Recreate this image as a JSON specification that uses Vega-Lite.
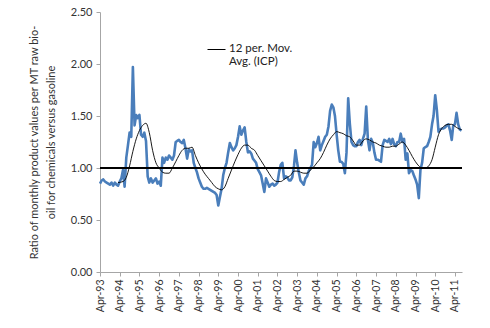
{
"$schema":"https://vega.github.io/schema/vega-lite/v6.json",
"width":362,"height":260,
"autosize":"none",
"padding":{"left":100,"top":12,"right":28,"bottom":56},
"background":"white",
"config":{"font":"Lato","view":{"stroke":null}},
"datasets":{
"monthly":[
{"d":"1993-04-01","v":0.85},{"d":"1993-05-01","v":0.88},{"d":"1993-06-01","v":0.89},{"d":"1993-07-01","v":0.87},{"d":"1993-08-01","v":0.86},{"d":"1993-09-01","v":0.85},{"d":"1993-10-01","v":0.84},{"d":"1993-11-01","v":0.86},{"d":"1993-12-01","v":0.83},
{"d":"1994-01-01","v":0.86},{"d":"1994-02-01","v":0.84},{"d":"1994-03-01","v":0.83},{"d":"1994-04-01","v":0.87},{"d":"1994-05-01","v":0.90},{"d":"1994-06-01","v":0.98},{"d":"1994-07-01","v":0.82},{"d":"1994-08-01","v":1.10},{"d":"1994-09-01","v":1.22},{"d":"1994-10-01","v":1.34},{"d":"1994-11-01","v":1.30},{"d":"1994-12-01","v":1.97},
{"d":"1995-01-01","v":1.41},{"d":"1995-02-01","v":1.51},{"d":"1995-03-01","v":1.48},{"d":"1995-04-01","v":1.51},{"d":"1995-05-01","v":1.32},{"d":"1995-06-01","v":1.30},{"d":"1995-07-01","v":1.34},{"d":"1995-08-01","v":1.26},{"d":"1995-09-01","v":0.92},{"d":"1995-10-01","v":0.86},{"d":"1995-11-01","v":0.90},{"d":"1995-12-01","v":0.86},
{"d":"1996-01-01","v":0.88},{"d":"1996-02-01","v":0.90},{"d":"1996-03-01","v":0.85},{"d":"1996-04-01","v":0.87},{"d":"1996-05-01","v":0.83},{"d":"1996-06-01","v":1.10},{"d":"1996-07-01","v":1.05},{"d":"1996-08-01","v":1.10},{"d":"1996-09-01","v":1.08},{"d":"1996-10-01","v":1.12},{"d":"1996-11-01","v":1.10},{"d":"1996-12-01","v":1.08},
{"d":"1997-01-01","v":1.12},{"d":"1997-02-01","v":1.25},{"d":"1997-03-01","v":1.26},{"d":"1997-04-01","v":1.27},{"d":"1997-05-01","v":1.25},{"d":"1997-06-01","v":1.24},{"d":"1997-07-01","v":1.27},{"d":"1997-08-01","v":1.19},{"d":"1997-09-01","v":1.09},{"d":"1997-10-01","v":1.18},{"d":"1997-11-01","v":1.16},{"d":"1997-12-01","v":1.17},
{"d":"1998-01-01","v":1.05},{"d":"1998-02-01","v":1.00},{"d":"1998-03-01","v":0.96},{"d":"1998-04-01","v":0.90},{"d":"1998-05-01","v":0.86},{"d":"1998-06-01","v":0.82},{"d":"1998-07-01","v":0.80},{"d":"1998-08-01","v":0.80},{"d":"1998-09-01","v":0.81},{"d":"1998-10-01","v":0.80},{"d":"1998-11-01","v":0.79},{"d":"1998-12-01","v":0.78},
{"d":"1999-01-01","v":0.77},{"d":"1999-02-01","v":0.76},{"d":"1999-03-01","v":0.74},{"d":"1999-04-01","v":0.64},{"d":"1999-05-01","v":0.72},{"d":"1999-06-01","v":0.80},{"d":"1999-07-01","v":0.93},{"d":"1999-08-01","v":1.00},{"d":"1999-09-01","v":1.05},{"d":"1999-10-01","v":1.15},{"d":"1999-11-01","v":1.24},{"d":"1999-12-01","v":1.20},
{"d":"2000-01-01","v":1.17},{"d":"2000-02-01","v":1.19},{"d":"2000-03-01","v":1.22},{"d":"2000-04-01","v":1.30},{"d":"2000-05-01","v":1.40},{"d":"2000-06-01","v":1.32},{"d":"2000-07-01","v":1.36},{"d":"2000-08-01","v":1.39},{"d":"2000-09-01","v":1.25},{"d":"2000-10-01","v":1.15},{"d":"2000-11-01","v":1.16},{"d":"2000-12-01","v":1.14},
{"d":"2001-01-01","v":1.09},{"d":"2001-02-01","v":1.07},{"d":"2001-03-01","v":1.05},{"d":"2001-04-01","v":0.99},{"d":"2001-05-01","v":0.96},{"d":"2001-06-01","v":0.93},{"d":"2001-07-01","v":0.85},{"d":"2001-08-01","v":0.77},{"d":"2001-09-01","v":0.90},{"d":"2001-10-01","v":0.86},{"d":"2001-11-01","v":0.82},{"d":"2001-12-01","v":0.84},
{"d":"2002-01-01","v":0.85},{"d":"2002-02-01","v":0.83},{"d":"2002-03-01","v":0.84},{"d":"2002-04-01","v":0.86},{"d":"2002-05-01","v":0.96},{"d":"2002-06-01","v":1.03},{"d":"2002-07-01","v":1.05},{"d":"2002-08-01","v":0.90},{"d":"2002-09-01","v":0.92},{"d":"2002-10-01","v":0.91},{"d":"2002-11-01","v":0.88},{"d":"2002-12-01","v":0.88},
{"d":"2003-01-01","v":0.91},{"d":"2003-02-01","v":1.02},{"d":"2003-03-01","v":1.17},{"d":"2003-04-01","v":1.05},{"d":"2003-05-01","v":0.96},{"d":"2003-06-01","v":0.88},{"d":"2003-07-01","v":0.86},{"d":"2003-08-01","v":0.84},{"d":"2003-09-01","v":0.90},{"d":"2003-10-01","v":0.92},{"d":"2003-11-01","v":0.97},{"d":"2003-12-01","v":1.00},
{"d":"2004-01-01","v":1.03},{"d":"2004-02-01","v":1.25},{"d":"2004-03-01","v":1.20},{"d":"2004-04-01","v":1.24},{"d":"2004-05-01","v":1.30},{"d":"2004-06-01","v":1.17},{"d":"2004-07-01","v":1.22},{"d":"2004-08-01","v":1.26},{"d":"2004-09-01","v":1.30},{"d":"2004-10-01","v":1.32},{"d":"2004-11-01","v":1.40},{"d":"2004-12-01","v":1.55},
{"d":"2005-01-01","v":1.61},{"d":"2005-02-01","v":1.58},{"d":"2005-03-01","v":1.50},{"d":"2005-04-01","v":1.32},{"d":"2005-05-01","v":1.17},{"d":"2005-06-01","v":1.06},{"d":"2005-07-01","v":1.06},{"d":"2005-08-01","v":1.04},{"d":"2005-09-01","v":0.95},{"d":"2005-10-01","v":1.15},{"d":"2005-11-01","v":1.67},{"d":"2005-12-01","v":1.43},
{"d":"2006-01-01","v":1.25},{"d":"2006-02-01","v":1.22},{"d":"2006-03-01","v":1.21},{"d":"2006-04-01","v":1.21},{"d":"2006-05-01","v":1.25},{"d":"2006-06-01","v":1.27},{"d":"2006-07-01","v":1.22},{"d":"2006-08-01","v":1.28},{"d":"2006-09-01","v":1.33},{"d":"2006-10-01","v":1.59},{"d":"2006-11-01","v":1.27},{"d":"2006-12-01","v":1.17},
{"d":"2007-01-01","v":1.28},{"d":"2007-02-01","v":1.24},{"d":"2007-03-01","v":1.15},{"d":"2007-04-01","v":1.08},{"d":"2007-05-01","v":1.08},{"d":"2007-06-01","v":1.07},{"d":"2007-07-01","v":1.06},{"d":"2007-08-01","v":1.22},{"d":"2007-09-01","v":1.27},{"d":"2007-10-01","v":1.26},{"d":"2007-11-01","v":1.25},{"d":"2007-12-01","v":1.28},
{"d":"2008-01-01","v":1.23},{"d":"2008-02-01","v":1.28},{"d":"2008-03-01","v":1.23},{"d":"2008-04-01","v":1.21},{"d":"2008-05-01","v":1.25},{"d":"2008-06-01","v":1.25},{"d":"2008-07-01","v":1.33},{"d":"2008-08-01","v":1.25},{"d":"2008-09-01","v":1.28},{"d":"2008-10-01","v":1.08},{"d":"2008-11-01","v":1.14},{"d":"2008-12-01","v":0.95},
{"d":"2009-01-01","v":0.98},{"d":"2009-02-01","v":0.97},{"d":"2009-03-01","v":0.93},{"d":"2009-04-01","v":0.89},{"d":"2009-05-01","v":0.84},{"d":"2009-06-01","v":0.71},{"d":"2009-07-01","v":0.98},{"d":"2009-08-01","v":1.05},{"d":"2009-09-01","v":1.19},{"d":"2009-10-01","v":1.20},{"d":"2009-11-01","v":1.21},{"d":"2009-12-01","v":1.25},
{"d":"2010-01-01","v":1.30},{"d":"2010-02-01","v":1.42},{"d":"2010-03-01","v":1.50},{"d":"2010-04-01","v":1.70},{"d":"2010-05-01","v":1.56},{"d":"2010-06-01","v":1.35},{"d":"2010-07-01","v":1.37},{"d":"2010-08-01","v":1.38},{"d":"2010-09-01","v":1.38},{"d":"2010-10-01","v":1.39},{"d":"2010-11-01","v":1.41},{"d":"2010-12-01","v":1.42},
{"d":"2011-01-01","v":1.36},{"d":"2011-02-01","v":1.27},{"d":"2011-03-01","v":1.41},{"d":"2011-04-01","v":1.42},{"d":"2011-05-01","v":1.53},{"d":"2011-06-01","v":1.42},{"d":"2011-07-01","v":1.37},{"d":"2011-08-01","v":1.36}
],
"ma":[
{"d":"1994-03-01","v":0.86},{"d":"1994-06-01","v":0.87},{"d":"1994-08-01","v":0.91},{"d":"1994-10-01","v":1.02},{"d":"1994-12-01","v":1.16},
{"d":"1995-02-01","v":1.28},{"d":"1995-04-01","v":1.36},{"d":"1995-06-01","v":1.41},{"d":"1995-08-01","v":1.43},{"d":"1995-10-01","v":1.34},{"d":"1995-12-01","v":1.17},
{"d":"1996-02-01","v":1.05},{"d":"1996-04-01","v":1.00},{"d":"1996-06-01","v":0.96},{"d":"1996-08-01","v":0.95},{"d":"1996-10-01","v":0.95},{"d":"1996-12-01","v":1.00},
{"d":"1997-02-01","v":1.06},{"d":"1997-04-01","v":1.12},{"d":"1997-06-01","v":1.17},{"d":"1997-08-01","v":1.19},{"d":"1997-10-01","v":1.19},{"d":"1997-12-01","v":1.20},
{"d":"1998-02-01","v":1.12},{"d":"1998-04-01","v":1.05},{"d":"1998-06-01","v":0.99},{"d":"1998-08-01","v":0.94},{"d":"1998-10-01","v":0.90},{"d":"1998-12-01","v":0.86},
{"d":"1999-02-01","v":0.82},{"d":"1999-04-01","v":0.80},{"d":"1999-06-01","v":0.79},{"d":"1999-08-01","v":0.82},{"d":"1999-10-01","v":0.90},{"d":"1999-12-01","v":0.98},
{"d":"2000-02-01","v":1.06},{"d":"2000-04-01","v":1.13},{"d":"2000-06-01","v":1.19},{"d":"2000-08-01","v":1.22},{"d":"2000-10-01","v":1.22},{"d":"2000-12-01","v":1.19},
{"d":"2001-02-01","v":1.17},{"d":"2001-04-01","v":1.12},{"d":"2001-06-01","v":1.07},{"d":"2001-08-01","v":1.02},{"d":"2001-10-01","v":0.97},{"d":"2001-12-01","v":0.92},
{"d":"2002-02-01","v":0.88},{"d":"2002-04-01","v":0.87},{"d":"2002-06-01","v":0.87},{"d":"2002-08-01","v":0.89},{"d":"2002-10-01","v":0.91},{"d":"2002-12-01","v":0.93},
{"d":"2003-02-01","v":0.97},{"d":"2003-04-01","v":0.97},{"d":"2003-06-01","v":0.96},{"d":"2003-08-01","v":0.95},{"d":"2003-10-01","v":0.95},{"d":"2003-12-01","v":0.98},
{"d":"2004-02-01","v":1.01},{"d":"2004-04-01","v":1.05},{"d":"2004-06-01","v":1.09},{"d":"2004-08-01","v":1.15},{"d":"2004-10-01","v":1.22},{"d":"2004-12-01","v":1.28},
{"d":"2005-02-01","v":1.32},{"d":"2005-04-01","v":1.35},{"d":"2005-06-01","v":1.34},{"d":"2005-08-01","v":1.33},{"d":"2005-10-01","v":1.31},{"d":"2005-12-01","v":1.30},
{"d":"2006-02-01","v":1.26},{"d":"2006-04-01","v":1.22},{"d":"2006-06-01","v":1.22},{"d":"2006-08-01","v":1.26},{"d":"2006-10-01","v":1.28},{"d":"2006-12-01","v":1.27},
{"d":"2007-02-01","v":1.25},{"d":"2007-04-01","v":1.24},{"d":"2007-06-01","v":1.22},{"d":"2007-08-01","v":1.21},{"d":"2007-10-01","v":1.20},{"d":"2007-12-01","v":1.20},
{"d":"2008-02-01","v":1.21},{"d":"2008-04-01","v":1.21},{"d":"2008-06-01","v":1.23},{"d":"2008-08-01","v":1.25},{"d":"2008-10-01","v":1.22},{"d":"2008-12-01","v":1.17},
{"d":"2009-02-01","v":1.11},{"d":"2009-04-01","v":1.06},{"d":"2009-06-01","v":1.02},{"d":"2009-08-01","v":1.00},{"d":"2009-10-01","v":1.00},{"d":"2009-12-01","v":1.02},
{"d":"2010-02-01","v":1.08},{"d":"2010-04-01","v":1.20},{"d":"2010-06-01","v":1.32},{"d":"2010-08-01","v":1.38},{"d":"2010-10-01","v":1.41},{"d":"2010-12-01","v":1.42},
{"d":"2011-02-01","v":1.42},{"d":"2011-04-01","v":1.40},{"d":"2011-06-01","v":1.38},{"d":"2011-08-01","v":1.37}
],
"ref":[{"d":"1993-04-01","d2":"2011-08-10","v":1}]
},
"encoding":{
"x":{"field":"d","type":"temporal",
"scale":{"type":"utc","domain":[{"year":1993,"month":4,"date":1,"utc":true},{"year":2011,"month":8,"date":10,"utc":true}]},
"axis":{"title":null,"labelExpr":"utcFormat(datum.value, '%b-%y')","labelAngle":-90,"labelFontSize":10.5,"labelColor":"#333333","labelPadding":3,
"domainColor":"#a6a6a6","tickColor":"#a6a6a6","tickSize":4,"grid":false,"labelFlush":false,"labelOverlap":false,"labelSeparation":0,
"values":[{"year":1993,"month":4,"date":1,"utc":true},{"year":1994,"month":4,"date":1,"utc":true},{"year":1995,"month":4,"date":1,"utc":true},{"year":1996,"month":4,"date":1,"utc":true},{"year":1997,"month":4,"date":1,"utc":true},{"year":1998,"month":4,"date":1,"utc":true},{"year":1999,"month":4,"date":1,"utc":true},{"year":2000,"month":4,"date":1,"utc":true},{"year":2001,"month":4,"date":1,"utc":true},{"year":2002,"month":4,"date":1,"utc":true},{"year":2003,"month":4,"date":1,"utc":true},{"year":2004,"month":4,"date":1,"utc":true},{"year":2005,"month":4,"date":1,"utc":true},{"year":2006,"month":4,"date":1,"utc":true},{"year":2007,"month":4,"date":1,"utc":true},{"year":2008,"month":4,"date":1,"utc":true},{"year":2009,"month":4,"date":1,"utc":true},{"year":2010,"month":4,"date":1,"utc":true},{"year":2011,"month":4,"date":1,"utc":true}]}},
"y":{"field":"v","type":"quantitative",
"scale":{"domain":[0,2.5],"nice":false},
"axis":{"values":[0,0.5,1,1.5,2,2.5],"format":".2f","grid":false,"labelFontSize":11,"labelColor":"#333333","labelPadding":4,
"domainColor":"#a6a6a6","tickColor":"#a6a6a6","tickSize":4,
"title":["Ratio of monthly product values per MT raw bio-","oil for chemicals versus gasoline"],
"titleFontSize":11,"titleFontWeight":"normal","titleColor":"#333333","titlePadding":14,"titleLineHeight":17}}
},
"layer":[
{"data":{"name":"monthly"},"mark":{"type":"line","color":"#4a7ebb","strokeWidth":2.6,"strokeJoin":"round"}},
{"data":{"name":"ma"},"mark":{"type":"line","strokeWidth":0.9,"interpolate":"monotone"},
"encoding":{
"color":{"datum":"12 per. Mov. Avg. (ICP)","type":"nominal","scale":{"range":["#000000"]},
"legend":{"orient":"none","legendX":107,"legendY":28,"title":null,"symbolType":"stroke","symbolSize":324,"symbolStrokeWidth":1,
"labelFontSize":11.5,"labelColor":"#222222","labelLimit":300,"labelExpr":"['12 per. Mov.','Avg. (ICP)']","labelBaseline":"top","labelOffset":3,
"encode":{"labels":{"update":{"dy":{"value":-7}}}}}}}},
{"data":{"name":"ref"},"mark":{"type":"rule","color":"#000000","strokeWidth":2},"encoding":{"x2":{"field":"d2"}}}
]
}
